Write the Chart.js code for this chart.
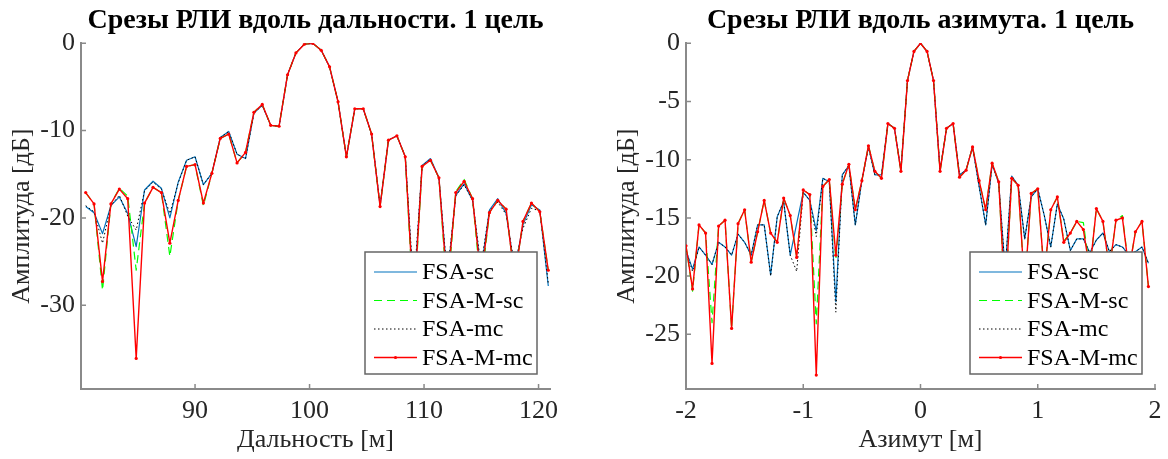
<!DOCTYPE html>
<html lang="ru">
<head>
<meta charset="utf-8">
<title>Срезы РЛИ</title>
<script src="https://cdn.jsdelivr.net/npm/chart.js@4.4.0/dist/chart.umd.min.js"></script>
<style>
  html, body { margin: 0; padding: 0; background: #fff; }
  .panel { position: absolute; top: 0; width: 584px; height: 459px; }
  #panel-range { left: 0; }
  #panel-azimuth { left: 584px; }
</style>
</head>
<body>
<div class="panel" id="panel-range"><canvas id="range-chart"></canvas></div>
<div class="panel" id="panel-azimuth"><canvas id="azimuth-chart"></canvas></div>
<script>
// Названия кривых
const seriesNames = ['FSA-sc', 'FSA-M-sc', 'FSA-mc', 'FSA-M-mc'];

// Срез вдоль дальности, м
const rangeX = [
    80.45, 81.18, 81.92, 82.65, 83.39, 84.12, 84.86, 85.59, 86.33, 87.06,
    87.80, 88.53, 89.26, 90.00, 90.73, 91.47, 92.20, 92.94, 93.67, 94.41,
    95.14, 95.87, 96.61, 97.34, 98.08, 98.81, 99.55, 100.28, 101.02, 101.75,
    102.49, 103.22, 103.95, 104.69, 105.42, 106.16, 106.89, 107.63, 108.36, 109.10,
    109.83, 110.56, 111.30, 112.03, 112.77, 113.50, 114.24, 114.97, 115.71, 116.44,
    117.17, 117.91, 118.64, 119.38, 120.11, 120.85
];
const rangeSc = [
    -18.7, -19.4, -21.8, -18.6, -17.6, -19.5, -23.3, -16.8, -15.8, -16.6,
    -20.0, -15.9, -13.4, -13.0, -16.2, -14.9, -10.8, -10.1, -12.7, -13.2,
    -8.0, -7.1, -9.4, -9.5, -3.6, -1.1, -0.1, 0.0, -0.8, -2.7,
    -6.7, -13.0, -7.5, -7.5, -10.4, -18.6, -11.1, -10.6, -13.0, -29.0,
    -14.0, -13.2, -15.4, -27.0, -17.4, -16.1, -18.0, -26.0, -19.1, -17.8,
    -19.5, -26.0, -20.8, -18.5, -19.1, -27.8
];
const rangeMSc = [
    -17.1, -18.4, -28.3, -18.4, -16.6, -17.5, -26.0, -18.3, -16.5, -17.1,
    -24.4, -18.0, -14.1, -13.9, -18.6, -14.9, -10.9, -10.4, -13.7, -12.5,
    -7.9, -7.0, -9.4, -9.5, -3.6, -1.1, -0.1, 0.0, -0.8, -2.7,
    -6.7, -13.0, -7.5, -7.5, -10.4, -18.7, -11.1, -10.6, -13.0, -31.0,
    -14.1, -13.4, -15.4, -29.0, -17.0, -15.6, -17.8, -28.0, -19.4, -18.0,
    -19.0, -27.0, -20.4, -18.3, -19.3, -26.0
];
const rangeMc = [
    -18.6, -19.3, -22.9, -18.6, -17.4, -19.8, -21.4, -16.9, -15.9, -16.7,
    -19.5, -16.0, -13.4, -13.0, -16.2, -14.9, -10.8, -10.1, -12.7, -13.2,
    -8.0, -7.1, -9.4, -9.5, -3.6, -1.1, -0.1, 0.0, -0.8, -2.7,
    -6.7, -13.0, -7.5, -7.5, -10.4, -18.6, -11.1, -10.6, -13.0, -28.0,
    -14.0, -13.3, -15.5, -26.5, -17.5, -16.2, -18.0, -25.5, -19.2, -18.2,
    -19.6, -25.5, -21.2, -18.9, -19.2, -27.5
];
const rangeMMc = [
    -17.1, -18.4, -27.3, -18.4, -16.7, -17.8, -36.1, -18.3, -16.5, -17.1,
    -22.9, -18.0, -14.1, -13.9, -18.3, -14.9, -10.9, -10.4, -13.7, -12.5,
    -7.9, -7.0, -9.4, -9.5, -3.6, -1.1, -0.1, 0.0, -0.8, -2.7,
    -6.7, -13.0, -7.5, -7.5, -10.4, -18.7, -11.1, -10.6, -13.0, -30.0,
    -14.1, -13.4, -15.4, -28.0, -17.1, -15.8, -17.8, -27.0, -19.4, -18.0,
    -19.0, -27.0, -20.4, -18.3, -19.3, -26.0
];
const rangeXTicks = [90, 100, 110, 120];
const rangeYTicks = [-30, -20, -10, 0];

// Срез вдоль азимута, м
const azimuthX = [
    -2.000, -1.944, -1.889, -1.833, -1.778, -1.722, -1.667, -1.611, -1.556, -1.500,
    -1.444, -1.389, -1.333, -1.278, -1.222, -1.167, -1.111, -1.056, -1.000, -0.944,
    -0.889, -0.833, -0.778, -0.722, -0.667, -0.611, -0.556, -0.500, -0.444, -0.389,
    -0.333, -0.278, -0.222, -0.167, -0.111, -0.056, 0.000, 0.056, 0.111, 0.167,
    0.222, 0.278, 0.333, 0.389, 0.444, 0.500, 0.556, 0.611, 0.667, 0.722,
    0.778, 0.833, 0.889, 0.944, 1.000, 1.056, 1.111, 1.167, 1.222, 1.278,
    1.333, 1.389, 1.444, 1.500, 1.556, 1.611, 1.667, 1.722, 1.778, 1.833,
    1.889, 1.944
];
const azimuthSc = [
    -17.8, -19.4, -17.5, -18.2, -19.0, -17.1, -17.5, -18.2, -16.4, -17.1,
    -18.2, -15.6, -15.6, -19.9, -14.9, -13.6, -18.2, -15.5, -12.8, -13.5,
    -16.1, -11.6, -11.9, -22.2, -11.3, -10.5, -15.6, -11.8, -8.9, -11.3,
    -11.3, -6.9, -7.3, -10.9, -3.2, -0.7, 0.0, -0.7, -3.2, -10.9,
    -7.3, -6.9, -11.3, -10.9, -8.9, -12.3, -15.6, -10.4, -12.0, -19.5,
    -11.4, -12.2, -16.8, -13.2, -12.5, -14.8, -17.5, -13.8, -15.1, -17.8,
    -16.8, -16.8, -18.0, -16.9, -16.3, -17.9, -17.3, -17.5, -18.2, -17.9,
    -17.5, -18.9
];
const azimuthMSc = [
    -17.4, -21.3, -15.6, -16.3, -24.0, -15.7, -15.2, -24.5, -15.5, -14.3,
    -18.8, -16.2, -13.5, -16.3, -17.1, -13.3, -14.8, -18.4, -12.6, -13.0,
    -24.1, -12.3, -11.7, -18.6, -12.1, -10.4, -14.3, -11.8, -8.8, -11.0,
    -11.6, -6.9, -7.3, -11.0, -3.2, -0.7, 0.0, -0.7, -3.2, -11.0,
    -7.3, -6.9, -11.5, -10.9, -8.9, -11.8, -14.3, -10.3, -11.9, -22.5,
    -11.6, -12.2, -21.0, -12.9, -12.5, -20.0, -14.3, -13.2, -17.0, -16.3,
    -15.3, -15.4, -19.5, -14.2, -15.3, -19.5, -15.2, -14.8, -19.5, -16.2,
    -15.3, -20.9
];
const azimuthMc = [
    -17.8, -19.6, -17.5, -18.2, -19.0, -17.1, -17.5, -18.2, -16.4, -17.1,
    -18.2, -15.6, -15.6, -20.0, -14.9, -13.6, -18.2, -19.6, -12.8, -13.5,
    -16.6, -11.6, -11.9, -23.1, -11.3, -10.5, -15.6, -11.8, -8.9, -11.3,
    -11.3, -6.9, -7.3, -10.9, -3.2, -0.7, 0.0, -0.7, -3.2, -10.9,
    -7.3, -6.9, -11.3, -10.9, -8.9, -12.3, -15.6, -10.4, -12.0, -19.5,
    -11.4, -12.2, -16.8, -13.2, -12.5, -14.8, -17.5, -13.8, -15.1, -17.8,
    -16.8, -16.8, -18.0, -16.9, -16.3, -17.9, -17.3, -17.5, -18.2, -17.9,
    -17.5, -18.9
];
const azimuthMMc = [
    -17.4, -21.1, -15.6, -16.3, -27.5, -15.7, -15.2, -24.5, -15.5, -14.3,
    -18.8, -16.2, -13.5, -16.3, -17.1, -13.3, -14.8, -18.4, -12.6, -13.0,
    -28.5, -12.3, -11.7, -18.2, -12.1, -10.4, -14.3, -11.8, -8.8, -11.0,
    -11.6, -6.9, -7.3, -11.0, -3.2, -0.7, 0.0, -0.7, -3.2, -11.0,
    -7.3, -6.9, -11.5, -10.9, -8.9, -11.8, -14.3, -10.3, -11.9, -22.0,
    -11.6, -12.2, -21.0, -12.9, -12.5, -20.0, -14.3, -13.2, -17.1, -16.3,
    -15.3, -16.0, -19.5, -14.2, -15.3, -19.5, -15.2, -15.0, -19.5, -16.2,
    -15.3, -20.9
];
const azimuthXTicks = [-2, -1, 0, 1, 2];
const azimuthYTicks = [-25, -20, -15, -10, -5, 0];

const TEXT_COLOR = '#262626';
const AXIS_COLOR = '#8a8a8a';
Chart.defaults.font.family = '"Liberation Serif", "Times New Roman", serif';

// Стили линий как в MATLAB
const lineStyles = [
    { color: '#0072BD', width: 1.2, dash: [], order: 3, radius: 0 },
    { color: '#00FF00', width: 1.2, dash: [8, 5], order: 2, radius: 0 },
    { color: '#000000', width: 1.0, dash: [1.5, 2.5], order: 1, radius: 0 },
    { color: '#FF0000', width: 1.4, dash: [], order: 0, radius: 1.6 }
];

function makeDatasets(xs, seriesList) {
    return seriesList.map((values, i) => {
        const st = lineStyles[i];
        return {
            label: seriesNames[i],
            data: values.map((v, j) => ({ x: xs[j], y: v })),
            borderColor: st.color,
            backgroundColor: st.color,
            borderWidth: st.width,
            borderDash: st.dash,
            borderJoinStyle: 'round',
            pointRadius: st.radius,
            pointBorderWidth: 0,
            pointBackgroundColor: st.color,
            tension: 0,
            fill: false,
            order: st.order
        };
    });
}

// Засечки внутрь области графика
const innerTicksPlugin = {
    id: 'innerTicks',
    beforeDatasetsDraw(chart) {
        const ctx = chart.ctx;
        const { x, y } = chart.scales;
        const area = chart.chartArea;
        ctx.save();
        ctx.strokeStyle = AXIS_COLOR;
        ctx.lineWidth = 1.5;
        ctx.beginPath();
        x.ticks.forEach(t => {
            const px = x.getPixelForValue(t.value);
            ctx.moveTo(px, area.bottom);
            ctx.lineTo(px, area.bottom - 5);
        });
        y.ticks.forEach(t => {
            const py = y.getPixelForValue(t.value);
            ctx.moveTo(area.left, py);
            ctx.lineTo(area.left + 5, py);
        });
        ctx.stroke();
        ctx.restore();
    }
};

// Легенда в рамке в правом нижнем углу
const boxLegendPlugin = {
    id: 'boxLegend',
    afterDatasetsDraw(chart) {
        const ctx = chart.ctx;
        const area = chart.chartArea;
        const w = 172, h = 122;
        const left = area.right - 13 - w;
        const top = area.bottom - 15 - h;
        ctx.save();
        ctx.fillStyle = '#ffffff';
        ctx.fillRect(left, top, w, h);
        ctx.strokeStyle = '#666666';
        ctx.lineWidth = 1.5;
        ctx.strokeRect(left, top, w, h);
        ctx.font = '24px "Liberation Serif"';
        ctx.textBaseline = 'middle';
        ctx.textAlign = 'left';
        chart.data.datasets.forEach((ds, i) => {
            const rowY = top + 20 + i * 28.5;
            ctx.strokeStyle = ds.borderColor;
            ctx.lineWidth = ds.borderWidth;
            ctx.setLineDash(ds.borderDash);
            ctx.beginPath();
            ctx.moveTo(left + 9, rowY);
            ctx.lineTo(left + 52, rowY);
            ctx.stroke();
            ctx.setLineDash([]);
            if (ds.pointRadius > 0) {
                ctx.fillStyle = ds.borderColor;
                ctx.beginPath();
                ctx.arc(left + 30.5, rowY, ds.pointRadius, 0, Math.PI * 2);
                ctx.fill();
            }
            ctx.fillStyle = '#000000';
            ctx.fillText(ds.label, left + 57, rowY + 1);
        });
        ctx.restore();
    }
};

function buildChart(canvasId, cfg) {
    const ctx = document.getElementById(canvasId).getContext('2d');
    return new Chart(ctx, {
        type: 'line',
        data: { datasets: makeDatasets(cfg.x, cfg.series) },
        options: {
            responsive: true,
            maintainAspectRatio: false,
            animation: false,
            layout: { padding: { left: 0, right: cfg.padRight, top: 0, bottom: 0 } },
            plugins: {
                legend: { display: false },
                tooltip: { enabled: false },
                title: {
                    display: true,
                    text: cfg.title,
                    fullSize: false,
                    color: '#000000',
                    font: { size: 28, weight: 'bold' },
                    padding: { top: 3.5, bottom: 6.2 }
                }
            },
            scales: {
                x: {
                    type: 'linear',
                    min: cfg.xMin,
                    max: cfg.xMax,
                    afterBuildTicks: s => { s.ticks = cfg.xTicks.map(v => ({ value: v })); },
                    afterFit: s => { s.height = 70; },
                    grid: { display: false, drawTicks: false },
                    border: { display: true, color: AXIS_COLOR, width: 2 },
                    ticks: {
                        color: TEXT_COLOR,
                        font: { size: 26 },
                        padding: 6.4,
                        autoSkip: false,
                        maxRotation: 0,
                        callback: v => String(v)
                    },
                    title: {
                        display: true,
                        text: cfg.xLabel,
                        color: TEXT_COLOR,
                        font: { size: 26 },
                        padding: { top: 0, bottom: 3.4 }
                    }
                },
                y: {
                    type: 'linear',
                    min: cfg.yMin,
                    max: 0,
                    afterBuildTicks: s => { s.ticks = cfg.yTicks.map(v => ({ value: v })); },
                    afterFit: s => { s.width = cfg.yWidth; },
                    grid: { display: false, drawTicks: false },
                    border: { display: true, color: AXIS_COLOR, width: 2 },
                    ticks: {
                        color: TEXT_COLOR,
                        font: { size: 26 },
                        padding: 6,
                        callback: v => String(v)
                    },
                    title: {
                        display: true,
                        text: 'Амплитуда [дБ]',
                        color: TEXT_COLOR,
                        font: { size: 26 },
                        padding: { top: cfg.yTitlePad, bottom: 0 }
                    }
                }
            }
        },
        plugins: [innerTicksPlugin, boxLegendPlugin]
    });
}

document.addEventListener('DOMContentLoaded', () => {
    buildChart('range-chart', {
        title: 'Срезы РЛИ вдоль дальности. 1 цель',
        xLabel: 'Дальность [м]',
        x: rangeX,
        series: [rangeSc, rangeMSc, rangeMc, rangeMMc],
        xMin: 80.04, xMax: 121.0,
        yMin: -39.6,
        xTicks: rangeXTicks,
        yTicks: rangeYTicks,
        padRight: 34,
        yWidth: 81,
        yTitlePad: 6.9
    });
    buildChart('azimuth-chart', {
        title: 'Срезы РЛИ вдоль азимута. 1 цель',
        xLabel: 'Азимут [м]',
        x: azimuthX,
        series: [azimuthSc, azimuthMSc, azimuthMc, azimuthMMc],
        xMin: -2, xMax: 2,
        yMin: -29.7,
        xTicks: azimuthXTicks,
        yTicks: azimuthYTicks,
        padRight: 13,
        yWidth: 102,
        yTitlePad: 27.9
    });
});
</script>
</body>
</html>
